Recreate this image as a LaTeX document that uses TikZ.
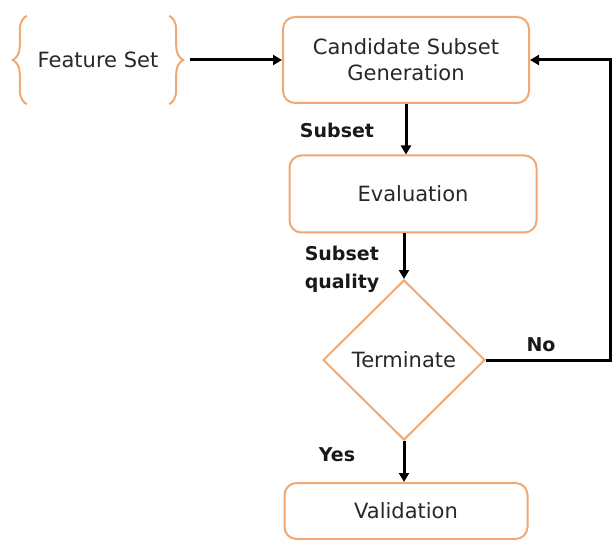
\documentclass[tikz,border=0pt]{standalone}
\usepackage{fontspec}
\setmainfont{DejaVu Sans}
\usetikzlibrary{shapes.geometric,decorations.pathreplacing,arrows.meta}
\definecolor{boxline}{RGB}{241,168,115}
\definecolor{ink}{RGB}{40,40,40}

\begin{document}
\begin{tikzpicture}[x=1pt,y=-1pt]
\tikzstyle{block} = [rectangle, rounded corners=12pt, draw=boxline, line width=2pt, fill=white, text=ink, font=\fontsize{21}{26}\selectfont, align=center]
\tikzstyle{decision} = [diamond, draw=boxline, line width=2pt, text=ink, font=\fontsize{21}{26}\selectfont, minimum width=162pt, minimum height=160pt, inner sep=0pt]
\tikzstyle{flow} = [draw=black, line width=3pt, -{Triangle[length=9pt,width=10pt]}]
\tikzstyle{tag} = [font=\bfseries\fontsize{19}{28}\selectfont, text=black!90, align=left, inner sep=0pt]
\tikzstyle{curly} = [draw=boxline, line width=2pt, decorate, decoration={brace, amplitude=14pt}]

\useasboundingbox (0,0) rectangle (613,540);

\node[text=ink, font=\fontsize{21}{26}\selectfont, minimum width=142pt, minimum height=88pt] (fs) at (98,60) {Feature Set};
\node[block, minimum width=246pt, minimum height=86pt] (cand) at (406,60) {Candidate Subset\\Generation};
\node[block, minimum width=247pt, minimum height=77pt] (eval) at (413,194) {Evaluation};
\node[decision] (term) at (404,360) {Terminate};
\node[block, minimum width=243pt, minimum height=56pt] (val) at (406,511) {Validation};
\coordinate (back) at (610,360);

\node[tag] (lsub) at (337,130) {Subset};
\node[tag] (lqual) at (342,269) {Subset\\quality};
\node[tag] (lno) at (541,345) {No};
\node[tag] (lyes) at (337,455) {Yes};

\draw[curly] (fs.south west) -- (fs.north west);
\draw[curly] (fs.north east) -- (fs.south east);

\draw[flow, shorten <=21pt] (fs.east) -- (cand.west);
\draw[flow] (cand.south) -- (cand.south |- eval.north);
\draw[flow] (term.north |- eval.south) -- (term.north);
\draw[flow] (term.south) -- (term.south |- val.north);
\draw[flow] (term.east) -- (back) |- (cand.east);
\end{tikzpicture}
\end{document}
